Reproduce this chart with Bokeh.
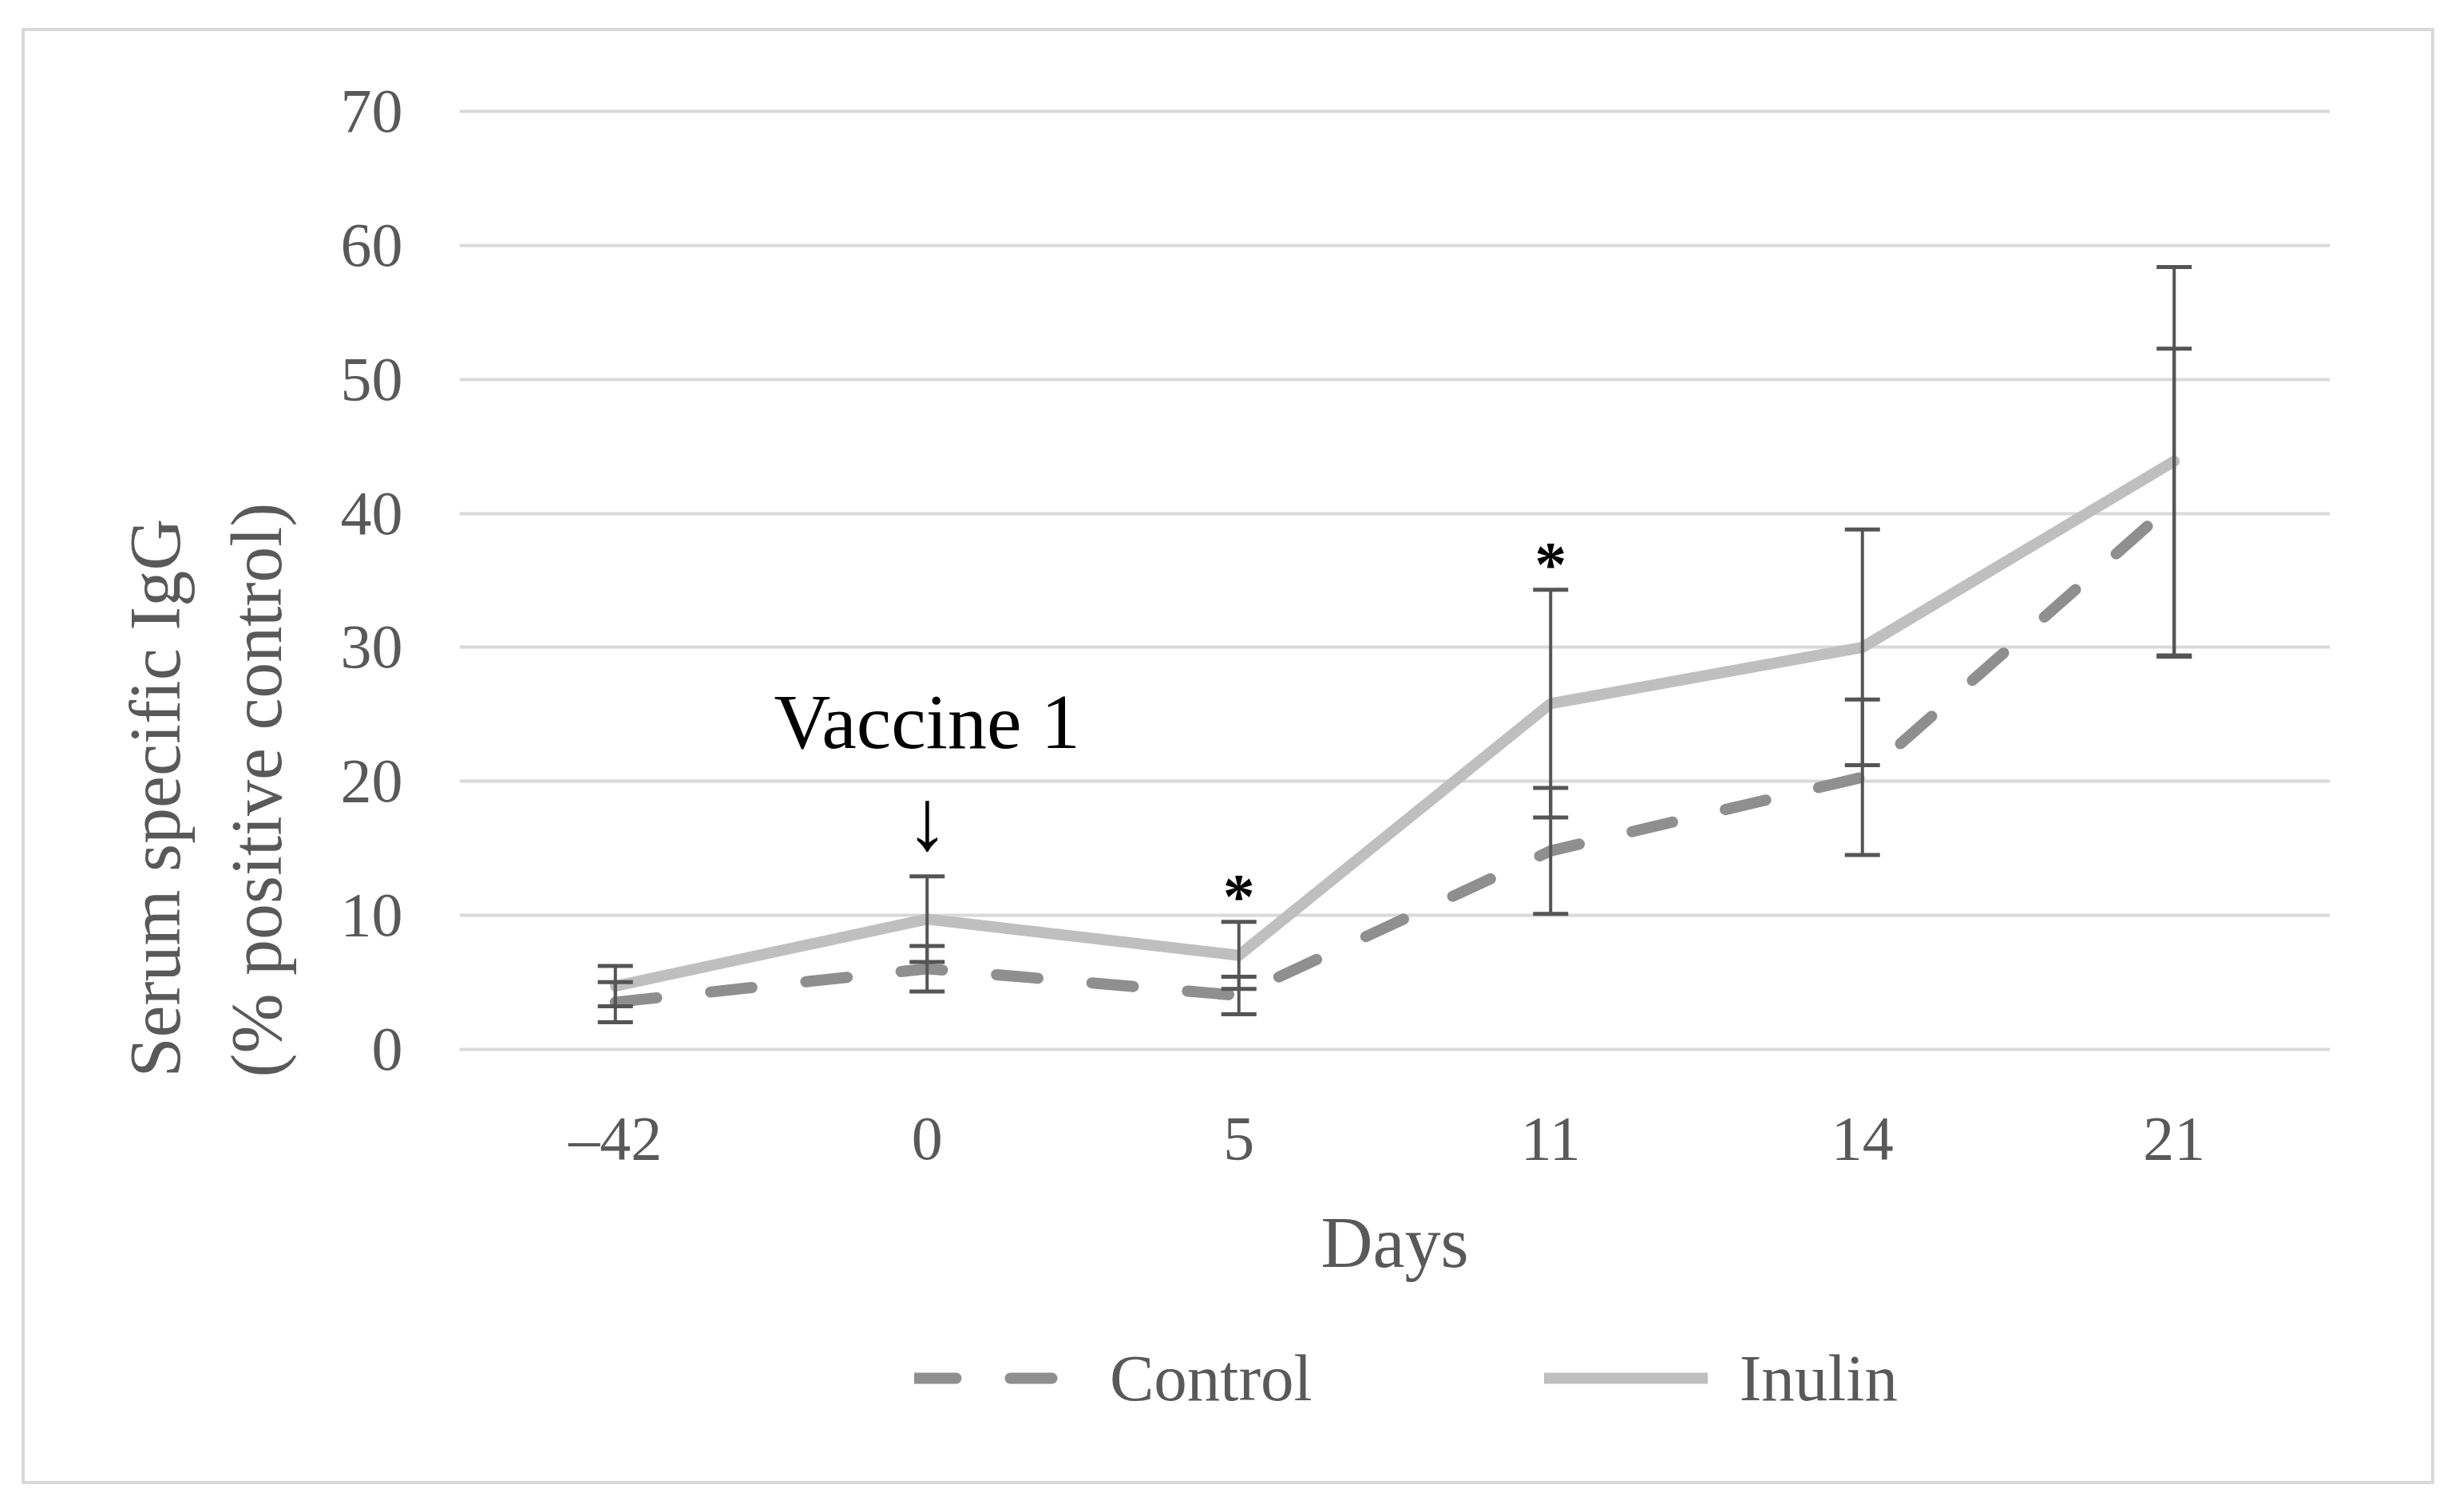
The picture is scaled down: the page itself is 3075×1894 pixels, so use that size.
from bokeh.plotting import figure
from bokeh.layouts import column
from bokeh.models import (ColumnDataSource, Whisker, TeeHead, Legend, LegendItem, Title,
                          FixedTicker, Range1d)
from bokeh.embed import file_html
from bokeh.resources import INLINE
from bokeh.core.properties import value

# ---------------- data ----------------
days = ["\u201342", "0", "5", "11", "14", "21"]
control = [3.5, 6.0, 4.0, 14.8, 20.3, 40.8]
control_err = [1.5, 1.7, 1.4, 4.7, 5.8, 11.5]
inulin = [4.7, 9.7, 7.0, 25.8, 30.0, 43.9]
inulin_err = [1.5, 3.2, 2.5, 8.5, 8.8, 14.5]
significant = [False, False, True, True, False, False]
y_ticks = [0, 10, 20, 30, 40, 50, 60, 70]
series_names = ["Control", "Inulin"]
y_title_lines = ["Serum specific IgG", "(% positive control)"]
vaccine_day_index = 1
vaccine_text = "Vaccine 1"

# ---------------- styling ----------------
FONT = "Liberation Serif"
TXT = "#595959"
W = 3022                   # width of the bordered chart box
H_MAIN, H_LEG = 1600, 224  # main plot + legend strip = 1824
FRAME_L, FRAME_R = 548, 131
CTRL_STYLE = dict(line_color="#8f8f8f", line_width=14, line_dash="52 68",
                  line_cap="round", line_join="round")
INU_STYLE = dict(line_color="#bfbfbf", line_width=14, line_cap="round", line_join="round")

xs = list(range(len(days)))

p = figure(width=W, height=H_MAIN, output_backend="svg", toolbar_location=None,
           x_range=Range1d(-0.5, len(days) - 0.5), y_range=Range1d(-0.5, 70.5),
           min_border_left=FRAME_L, min_border_right=FRAME_R,
           min_border_top=96, min_border_bottom=H_MAIN - 1287)
p.outline_line_color = None
p.background_fill_color = "white"
p.border_fill_color = None

p.xgrid.grid_line_color = None
p.ygrid.grid_line_color = "#d9d9d9"
p.ygrid.grid_line_width = 4

# axes
p.xaxis.ticker = FixedTicker(ticks=xs)
p.xaxis.major_label_overrides = {i: d for i, d in zip(xs, days)}
p.yaxis.ticker = FixedTicker(ticks=y_ticks)
for ax in (p.xaxis[0], p.yaxis[0]):
    ax.axis_line_color = None
    ax.major_tick_line_color = None
    ax.minor_tick_line_color = None
    ax.major_label_text_font = FONT
    ax.major_label_text_color = TXT
    ax.major_label_text_font_size = "78px"
p.xaxis.major_label_standoff = 53
p.yaxis.major_label_standoff = 65
p.xaxis.axis_label = "Days"
p.xaxis.axis_label_text_font = FONT
p.xaxis.axis_label_text_font_style = "normal"
p.xaxis.axis_label_text_font_size = "90px"
p.xaxis.axis_label_text_color = TXT
p.xaxis.axis_label_standoff = 35

# y-axis title: one two-line left title, both lines starting at the same height
p.add_layout(Title(text="\n".join(y_title_lines), align="left", offset=-27, standoff=104,
                   text_font=FONT, text_font_style="normal", text_font_size="90px",
                   text_line_height=1.29, text_color=TXT), "left")

# lines
src = ColumnDataSource(dict(
    x=xs, control=control, inulin=inulin,
    c_lo=[v - e for v, e in zip(control, control_err)],
    c_hi=[v + e for v, e in zip(control, control_err)],
    i_lo=[v - e for v, e in zip(inulin, inulin_err)],
    i_hi=[v + e for v, e in zip(inulin, inulin_err)],
))

p.line("x", "control", source=src, **CTRL_STYLE)
p.line("x", "inulin", source=src, **INU_STYLE)

ERR = "#555555"
for lo, hi in (("c_lo", "c_hi"), ("i_lo", "i_hi")):
    w = Whisker(source=src, base="x", lower=lo, upper=hi, dimension="height",
                line_color=ERR, line_width=4, level="annotation",
                upper_head=TeeHead(size=44, line_color=ERR, line_width=5),
                lower_head=TeeHead(size=44, line_color=ERR, line_width=5))
    p.add_layout(w)

# significance stars
star_x = [x for x, s in zip(xs, significant) if s]
star_y = [v + e for v, e, s in zip(inulin, inulin_err, significant) if s]
p.text(x=star_x, y=star_y, text=["*"] * len(star_x), text_align="center",
       text_baseline="middle", y_offset=-32, text_font=value(FONT),
       text_font_style="bold", text_font_size="80px", text_color="black")

# vaccine annotation
vx = xs[vaccine_day_index]
vy = inulin[vaccine_day_index] + inulin_err[vaccine_day_index]
p.text(x=[vx], y=[vy], text=["\u2193"], text_align="center", text_baseline="middle",
       y_offset=-70, text_font=value(FONT), text_font_size="108px", text_color="black")
p.text(x=[vx], y=[vy], text=[vaccine_text], text_align="center", text_baseline="middle",
       y_offset=-194, text_font=value(FONT), text_font_size="98px", text_color="black")

# ---------------- legend strip ----------------
leg = figure(width=W, height=H_LEG, output_backend="svg", toolbar_location=None,
             x_range=Range1d(0, 1), y_range=Range1d(0, 1),
             x_axis_location=None, y_axis_location=None,
             min_border_left=FRAME_L, min_border_right=FRAME_R,
             min_border_top=0, min_border_bottom=42)
leg.outline_line_color = None
leg.background_fill_color = None
leg.border_fill_color = None
leg.grid.visible = False
# legend proxies (one point each, outside the strip's visible range)
lr_ctrl = leg.line(x=[-10], y=[-10], **CTRL_STYLE)
lr_inu = leg.line(x=[-10], y=[-10], **INU_STYLE)
legend = Legend(items=[LegendItem(label=series_names[0], renderers=[lr_ctrl]),
                       LegendItem(label=series_names[1], renderers=[lr_inu])],
                orientation="horizontal", location=(570, 43),
                glyph_width=205, glyph_height=40, label_standoff=40, spacing=290,
                label_text_font=FONT, label_text_font_size="83px", label_text_color=TXT,
                border_line_color=None, background_fill_alpha=0, padding=10, margin=0)
leg.add_layout(legend)

layout = column(p, leg, spacing=0, margin=(35, 0, 0, 27),
                styles={"box-shadow": "inset 0 0 0 4px #d9d9d9", "background": "white"})

open("out.html", "w").write(file_html(layout, INLINE))
